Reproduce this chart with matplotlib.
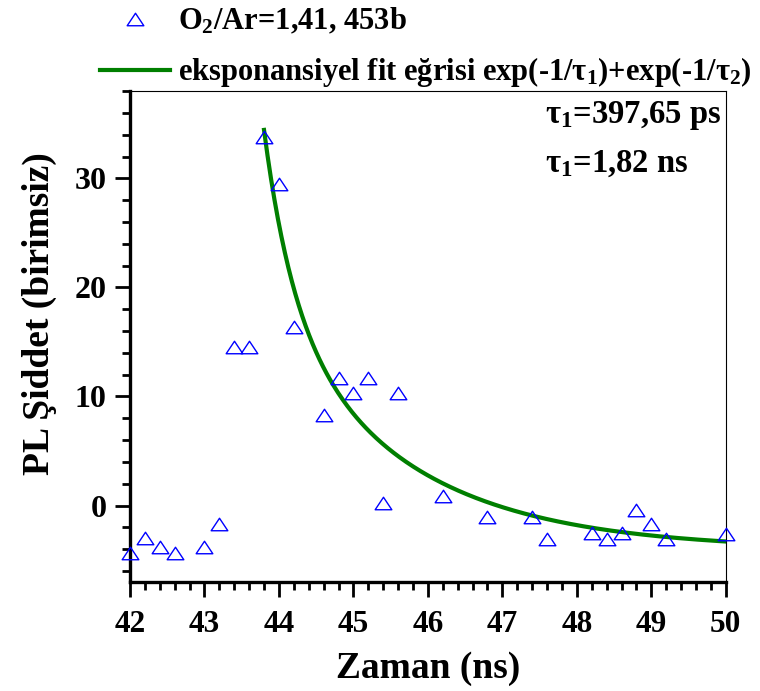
import numpy as np
import matplotlib
matplotlib.use("Agg")
import matplotlib.pyplot as plt
from matplotlib.path import Path
from matplotlib.ticker import MultipleLocator

plt.rcParams['font.family'] = ['Liberation Serif', 'DejaVu Serif']
plt.rcParams['font.weight'] = 'bold'
plt.rcParams['mathtext.fontset'] = 'custom'
plt.rcParams['mathtext.rm'] = 'Liberation Serif:bold'
plt.rcParams['mathtext.it'] = 'Liberation Serif:bold'
plt.rcParams['mathtext.bf'] = 'Liberation Serif:bold'
plt.rcParams['mathtext.default'] = 'rm'

# Measured PL intensity vs time
time_ns = [42.0, 42.2, 42.4, 42.6, 43.0, 43.2, 43.4, 43.6, 43.8, 44.0,
           44.2, 44.6, 44.8, 45.0, 45.2, 45.4, 45.6, 46.2, 46.8, 47.4,
           47.6, 48.2, 48.4, 48.6, 48.8, 49.0, 49.2, 50.0]
intensity = [-4.4, -3.0, -3.8, -4.4, -3.8, -1.7, 14.5, 14.5, 33.8, 29.5,
             16.4, 8.3, 11.7, 10.3, 11.7, 0.2, 10.3, 0.9, -1.1, -1.1,
             -3.1, -2.5, -3.1, -2.5, -0.4, -1.7, -3.1, -2.6]

# Bi-exponential fit parameters
tau1_ns = 0.39765
tau2_ns = 1.82
fit_start = 43.8
fit_end = 50.0
amp1 = 15.9
amp2 = 22.6
offset = -4.05

t_fit = np.linspace(fit_start, fit_end, 400)
y_fit = (offset + amp1 * np.exp(-(t_fit - fit_start) / tau1_ns)
         + amp2 * np.exp(-(t_fit - fit_start) / tau2_ns))

# open triangle, a little wider than tall
tri = Path([(0, 0.75), (-1, -0.75), (1, -0.75), (0, 0.75)],
           [Path.MOVETO, Path.LINETO, Path.LINETO, Path.CLOSEPOLY])

fig = plt.figure(figsize=(7.6, 6.91), dpi=100)
ax = fig.add_axes([0.171, 0.158, 0.784, 0.710])

pts, = ax.plot(time_ns, intensity, linestyle='none', marker=tri, markersize=12,
               markerfacecolor='none', markeredgecolor='#0000ff', markeredgewidth=1.0,
               clip_on=False, zorder=3)
fit, = ax.plot(t_fit, y_fit, color='#007f00', linewidth=3.0, zorder=2)

ax.set_xlim(42, 50)
ax.set_ylim(-7, 38)
ax.xaxis.set_major_locator(MultipleLocator(1))
ax.xaxis.set_minor_locator(MultipleLocator(0.2))
ax.yaxis.set_major_locator(MultipleLocator(10))
ax.yaxis.set_minor_locator(MultipleLocator(2))

ax.tick_params(which='both', direction='out', width=2.0, top=False, right=False)
ax.tick_params(which='major', length=11)
ax.tick_params(which='minor', length=6)
ax.tick_params(axis='x', which='major', labelsize=22.5, pad=9)
ax.tick_params(axis='y', which='major', labelsize=23, pad=6)

ax.spines['left'].set_linewidth(2.4)
ax.spines['bottom'].set_linewidth(2.4)
ax.spines['top'].set_linewidth(0.8)
ax.spines['right'].set_linewidth(0.8)

ax.set_xlabel('Zaman (ns)', fontsize=27, fontweight='bold', labelpad=9)
ax.set_ylabel('PL Şiddet (birimsiz)', fontsize=27, fontweight='bold')
ax.yaxis.set_label_coords(-0.122, 0.546)

ax.text(0.696, 0.935, r'$\tau_1$=397,65 ps', transform=ax.transAxes,
        fontsize=23.5, fontweight='bold', ha='left', va='baseline')
ax.text(0.696, 0.835, r'$\tau_1$=1,82 ns', transform=ax.transAxes,
        fontsize=23.5, fontweight='bold', ha='left', va='baseline')

fig.legend([pts, fit],
           [r'O$_2$/Ar=1,41, 453b',
            r'eksponansiyel fit eğrisi exp(-1/$\tau_1$)+exp(-1/$\tau_2$)'],
           loc='upper left', bbox_to_anchor=(0.115, 1.008), frameon=False,
           fontsize=22, handlelength=2.3, handletextpad=0.25, labelspacing=0.6,
           borderaxespad=0)

fig.savefig('out.png', dpi=100)
